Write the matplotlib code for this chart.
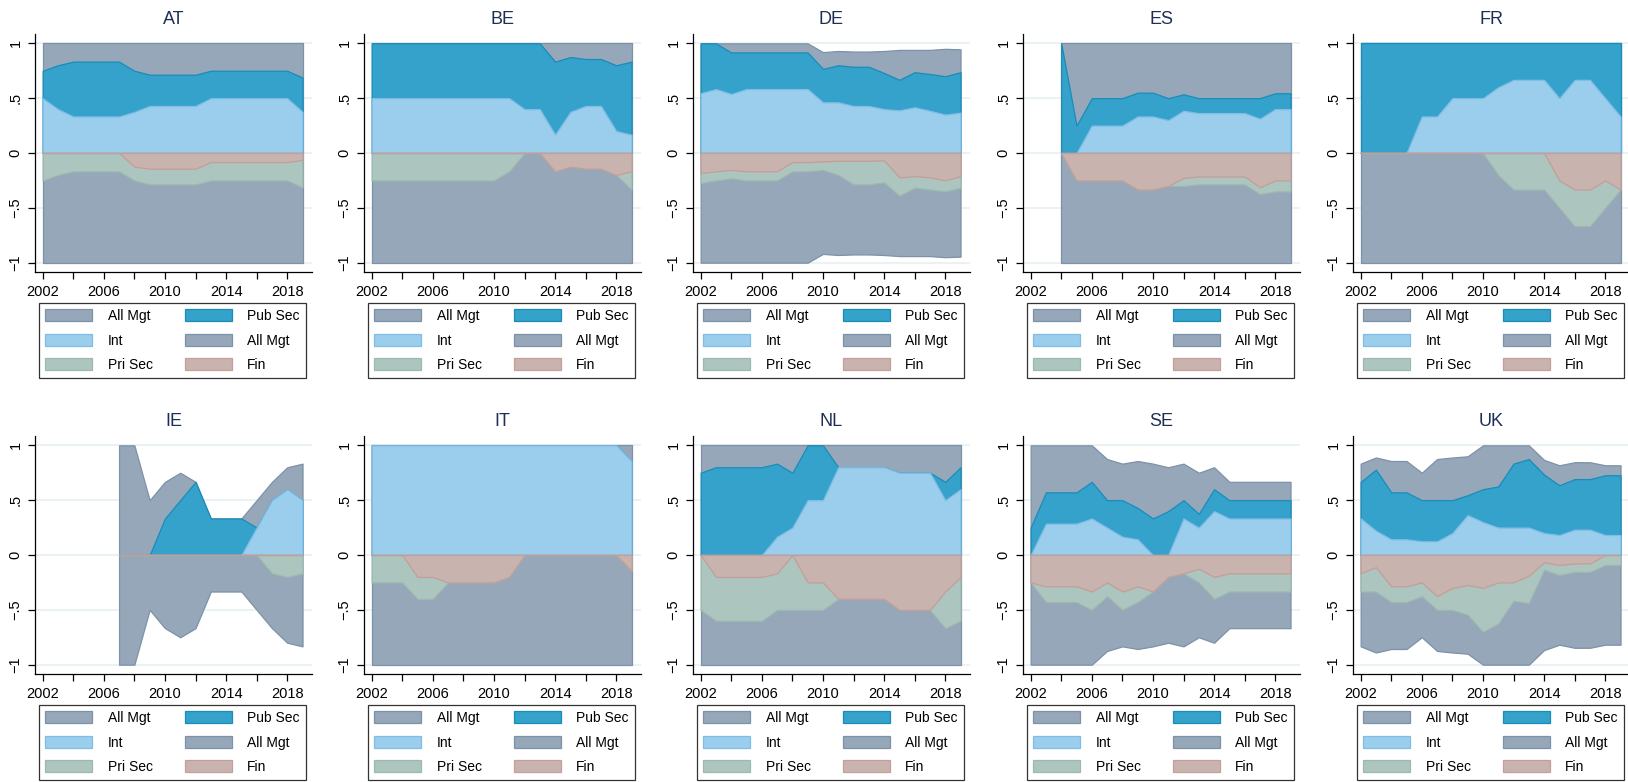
import numpy as np
import matplotlib
matplotlib.use("Agg")
import matplotlib.pyplot as plt
from matplotlib.patches import Patch

plt.rcParams['font.family'] = ['Liberation Sans', 'DejaVu Sans']

YEARS = list(range(2002, 2020))
COUNTRIES = ["AT", "BE", "DE", "ES", "FR", "IE", "IT", "NL", "SE", "UK"]
N = np.nan

# Stacked shares, upper half (each area drawn from 0 up to its value)
ALL_MGT_UP = {
    "AT": [1] * 18,
    "BE": [1] * 18,
    "DE": [1, 1, 1, 1, 1, 1, 1, 1, .92, .93, .925, .925, .93, .94, .94, .94, .95, .945],
    "ES": [N, N] + [1] * 16,
    "FR": [1] * 18,
    "IE": [N] * 5 + [1, 1, .5, .667, .75, .667, .333, .333, .333, .5, .667, .8, .833],
    "IT": [1] * 18,
    "NL": [1] * 18,
    "SE": [1, 1, 1, 1, 1, .875, .833, .857, .833, .8, .833, .75, .8, .667, .667, .667, .667, .667],
    "UK": [.833, .889, .857, .857, .75, .875, .889, .9, 1, 1, 1, 1, .867, .818, .846, .846, .818, .818],
}
PUB_SEC = {
    "AT": [.75, .8, .833, .833, .833, .833, .75, .714, .714, .714, .714, .75, .75, .75, .75, .75, .75, .688],
    "BE": [1] * 12 + [.833, .875, .857, .857, .8, .833],
    "DE": [1, 1, .917, .917, .917, .917, .917, .917, .767, .8, .786, .786, .73, .667, .737, .72, .7, .737],
    "ES": [N, N, 1, .25, .5, .5, .5, .55, .55, .5, .535, .5, .5, .5, .5, .5, .545, .545],
    "FR": [1] * 18,
    "IE": [N] * 5 + [0, 0, 0, .333, .5, .667, .333, .333, .333, .25, .5, .6, .5],
    "IT": [1] * 17 + [.857],
    "NL": [.75, .8, .8, .8, .8, .833, .75, 1, 1, .8, .8, .8, .8, .75, .75, .75, .667, .8],
    "SE": [.25, .571, .571, .571, .667, .5, .5, .429, .333, .4, .5, .375, .6, .5, .5, .5, .5, .5],
    "UK": [.667, .778, .571, .571, .5, .5, .5, .545, .6, .625, .833, .875, .733, .636, .692, .692, .727, .727],
}
INT = {
    "AT": [.5, .4, .333, .333, .333, .333, .375, .429, .429, .429, .429, .5, .5, .5, .5, .5, .5, .375],
    "BE": [.5] * 10 + [.4, .4, .167, .375, .429, .429, .2, .167],
    "DE": [.545, .583, .538, .583, .583, .583, .583, .583, .462, .462, .429, .429, .4, .389, .417, .385, .35, .368],
    "ES": [N, N, 0, 0, .25, .25, .25, .333, .333, .3, .385, .364, .364, .364, .364, .313, .4, .4],
    "FR": [0, 0, 0, 0, .333, .333, .5, .5, .5, .6, .667, .667, .667, .5, .667, .667, .5, .333],
    "IE": [N] * 5 + [0, 0, 0, 0, 0, 0, 0, 0, 0, .25, .5, .6, .5],
    "IT": [1] * 17 + [.857],
    "NL": [0, 0, 0, 0, 0, .167, .25, .5, .5, .8, .8, .8, .8, .75, .75, .75, .5, .6],
    "SE": [0, .286, .286, .286, .333, .25, .167, .143, 0, 0, .333, .25, .4, .333, .333, .333, .333, .333],
    "UK": [.333, .222, .143, .143, .125, .125, .2, .364, .3, .25, .25, .25, .2, .182, .231, .231, .182, .182],
}

# Stacked shares, lower half (drawn from 0 down to its value)
ALL_MGT_DN = {
    "AT": [-1] * 18,
    "BE": [-1] * 18,
    "DE": [-1, -1, -1, -1, -1, -1, -1, -1, -.92, -.93, -.925, -.925, -.93, -.94, -.94, -.94, -.95, -.945],
    "ES": [N, N] + [-1] * 16,
    "FR": [-1] * 18,
    "IE": [N] * 5 + [-1, -1, -.5, -.667, -.75, -.667, -.333, -.333, -.333, -.5, -.667, -.8, -.833],
    "IT": [-1] * 18,
    "NL": [-1] * 18,
    "SE": [-1, -1, -1, -1, -1, -.875, -.833, -.857, -.833, -.8, -.833, -.75, -.8, -.667, -.667, -.667, -.667, -.667],
    "UK": [-.833, -.889, -.857, -.857, -.75, -.875, -.889, -.9, -1, -1, -1, -1, -.867, -.818, -.846, -.846, -.818, -.818],
}
PRI_SEC = {
    "AT": [-.25, -.2, -.167, -.167, -.167, -.167, -.25, -.286, -.286, -.286, -.286, -.25, -.25, -.25, -.25, -.25, -.25, -.313],
    "BE": [-.25] * 9 + [-.167, 0, 0, -.167, -.125, -.143, -.143, -.2, -.333],
    "DE": [-.273, -.25, -.231, -.25, -.25, -.25, -.167, -.167, -.154, -.2, -.286, -.286, -.267, -.389, -.316, -.333, -.35, -.316],
    "ES": [N, N, 0, -.25, -.25, -.25, -.25, -.333, -.333, -.3, -.3, -.286, -.286, -.286, -.286, -.375, -.35, -.35],
    "FR": [0] * 9 + [-.2, -.333, -.333, -.333, -.5, -.667, -.667, -.5, -.333],
    "IE": [N] * 5 + [0] * 10 + [-.167, -.2, -.167],
    "IT": [-.25, -.25, -.25, -.4, -.4, -.25, -.25, -.25, -.25, -.2] + [0] * 7 + [-.143],
    "NL": [-.5, -.6, -.6, -.6, -.6, -.5, -.5, -.5, -.5, -.4, -.4, -.4, -.4, -.5, -.5, -.5, -.667, -.6],
    "SE": [-.25, -.429, -.429, -.429, -.5, -.375, -.5, -.429, -.333, -.2, -.167, -.25, -.4, -.333, -.333, -.333, -.333, -.333],
    "UK": [-.333, -.333, -.429, -.429, -.375, -.5, -.5, -.545, -.7, -.625, -.417, -.438, -.133, -.182, -.154, -.154, -.091, -.091],
}
FIN = {
    "AT": [0] * 6 + [-.125, -.143, -.143, -.143, -.143, -.083, -.083, -.083, -.083, -.083, -.083, -.063],
    "BE": [0] * 12 + [-.167, -.125, -.143, -.143, -.2, -.167],
    "DE": [-.182, -.167, -.154, -.167, -.167, -.167, -.083, -.083, -.077, -.071, -.071, -.071, -.067, -.222, -.211, -.222, -.25, -.211],
    "ES": [N, N, 0, -.25, -.25, -.25, -.25, -.333, -.333, -.3, -.227, -.214, -.214, -.214, -.214, -.313, -.25, -.25],
    "FR": [0] * 13 + [-.25, -.333, -.333, -.25, -.333],
    "IE": [N] * 5 + [0] * 13,
    "IT": [0, 0, 0, -.2, -.2, -.25, -.25, -.25, -.25, -.2] + [0] * 7 + [-.143],
    "NL": [0, -.2, -.2, -.2, -.2, -.167, 0, -.25, -.25, -.4, -.4, -.4, -.4, -.5, -.5, -.5, -.333, -.2],
    "SE": [-.25, -.286, -.286, -.286, -.333, -.25, -.333, -.286, -.333, -.2, -.167, -.125, -.2, -.167, -.167, -.167, -.167, -.167],
    "UK": [-.167, -.111, -.286, -.286, -.25, -.375, -.3, -.273, -.3, -.25, -.25, -.188, -.067, -.091, -.077, -.077, 0, 0],
}

# Series styles: (label, data, face, edge), in drawing order
SERIES = [
    ("All Mgt", ALL_MGT_UP, "#95a7b8", "#7d92a8"),
    ("Pub Sec", PUB_SEC, "#34a2ca", "#1a8cba"),
    ("Int", INT, "#9bcdec", "#7fbde6"),
    ("All Mgt", ALL_MGT_DN, "#95a7b8", "#7d92a8"),
    ("Pri Sec", PRI_SEC, "#adc5bf", "#9cb9b1"),
    ("Fin", FIN, "#c9b3af", "#c49e98"),
]

W, H = 1628, 782
fig = plt.figure(figsize=(W / 100, H / 100), dpi=100)


def rect(left, top, w, h):
    return [left / W, 1 - (top + h) / H, w / W, h / H]


LEFTS = [35, 364, 693, 1023, 1353]
TOPS = [34, 436]
AX_W, AX_H = 277, 238

years = np.array(YEARS, dtype=float)

for i, c in enumerate(COUNTRIES):
    row, col = divmod(i, 5)
    left, top = LEFTS[col], TOPS[row]
    ax = fig.add_axes(rect(left, top, AX_W, AX_H))

    for y in (-1, -.5, 0, .5, 1):
        ax.axhline(y, color="#e9f1f2", lw=1.3, zorder=0)

    for z, (lab, data, fc, ec) in enumerate(SERIES):
        vals = np.array(data[c], dtype=float)
        ax.fill_between(years, 0, vals, where=~np.isnan(vals),
                        facecolor=fc, edgecolor=ec, lw=0.9, zorder=1 + z)

    ax.set_xlim(2001.5, 2019.62)
    ax.set_ylim(-1.085, 1.085)
    ax.set_yticks([-1, -.5, 0, .5, 1])
    ax.set_yticklabels(["\u22121", "\u2212.5", "0", ".5", "1"], rotation=90, va="center")
    ax.set_xticks(range(2002, 2019, 2))
    ax.set_xticklabels([str(y) if (y - 2002) % 4 == 0 else "" for y in range(2002, 2019, 2)])
    ax.tick_params(direction="out", length=5, width=0.9, labelsize=10.5, pad=4, colors="black")
    for s in ("top", "right"):
        ax.spines[s].set_visible(False)
    for s in ("left", "bottom"):
        ax.spines[s].set_linewidth(0.9)
    ax.set_title(c, fontsize=13, color="#1e2f55", pad=7)

    handles = [Patch(facecolor=fc, edgecolor=ec, lw=0.9, label=lab) for lab, _, fc, ec in SERIES]
    # two columns, entries read row by row: All Mgt, Pub Sec / Int, All Mgt / Pri Sec, Fin
    leg = fig.legend(handles=[handles[k] for k in (0, 2, 4, 1, 3, 5)],
                     ncol=2, loc="upper left",
                     bbox_to_anchor=rect(left + 4, top + 269, 267, 76),
                     bbox_transform=fig.transFigure, mode="expand",
                     fontsize=10, frameon=True, fancybox=False, borderaxespad=0,
                     handlelength=3.4, handleheight=0.95, handletextpad=1.1,
                     labelspacing=0.75, borderpad=0.45, columnspacing=2.0)
    leg.get_frame().set_edgecolor("black")
    leg.get_frame().set_linewidth(0.9)

fig.savefig("out.png", dpi=100)
